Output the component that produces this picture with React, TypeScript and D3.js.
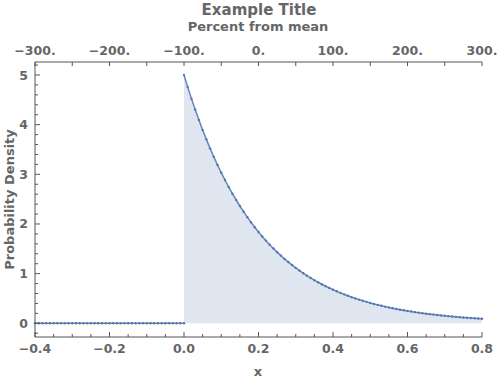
import React from "react";
import * as d3 from "d3";

const title = "Example Title";
const topAxisTitle = "Percent from mean";
const xAxisTitle = "x";
const yAxisTitle = "Probability Density";

const zeroX = [
  -0.4, -0.39, -0.38, -0.37, -0.36, -0.35, -0.34, -0.33, -0.32, -0.31,
  -0.3, -0.29, -0.28, -0.27, -0.26, -0.25, -0.24, -0.23, -0.22, -0.21,
  -0.2, -0.19, -0.18, -0.17, -0.16, -0.15, -0.14, -0.13, -0.12, -0.11,
  -0.1, -0.09, -0.08, -0.07, -0.06, -0.05, -0.04, -0.03, -0.02, -0.01, 0.0,
];
const zeroY = [
  0, 0, 0, 0, 0, 0, 0, 0, 0, 0,
  0, 0, 0, 0, 0, 0, 0, 0, 0, 0,
  0, 0, 0, 0, 0, 0, 0, 0, 0, 0,
  0, 0, 0, 0, 0, 0, 0, 0, 0, 0, 0,
];

const curveX = [
  0.0, 0.01, 0.02, 0.03, 0.04, 0.05, 0.06, 0.07, 0.08, 0.09,
  0.1, 0.11, 0.12, 0.13, 0.14, 0.15, 0.16, 0.17, 0.18, 0.19,
  0.2, 0.21, 0.22, 0.23, 0.24, 0.25, 0.26, 0.27, 0.28, 0.29,
  0.3, 0.31, 0.32, 0.33, 0.34, 0.35, 0.36, 0.37, 0.38, 0.39,
  0.4, 0.41, 0.42, 0.43, 0.44, 0.45, 0.46, 0.47, 0.48, 0.49,
  0.5, 0.51, 0.52, 0.53, 0.54, 0.55, 0.56, 0.57, 0.58, 0.59,
  0.6, 0.61, 0.62, 0.63, 0.64, 0.65, 0.66, 0.67, 0.68, 0.69,
  0.7, 0.71, 0.72, 0.73, 0.74, 0.75, 0.76, 0.77, 0.78, 0.79, 0.8,
];
const curveY = [
  5.0, 4.756, 4.524, 4.304, 4.094, 3.894, 3.704, 3.523, 3.352, 3.188,
  3.033, 2.885, 2.744, 2.61, 2.483, 2.362, 2.247, 2.137, 2.033, 1.934,
  1.839, 1.75, 1.664, 1.583, 1.506, 1.433, 1.363, 1.296, 1.233, 1.173,
  1.116, 1.061, 1.009, 0.96, 0.913, 0.869, 0.826, 0.786, 0.748, 0.711,
  0.677, 0.644, 0.612, 0.583, 0.554, 0.527, 0.501, 0.477, 0.454, 0.432,
  0.41, 0.39, 0.371, 0.353, 0.336, 0.32, 0.304, 0.289, 0.275, 0.262,
  0.249, 0.237, 0.225, 0.214, 0.204, 0.194, 0.184, 0.175, 0.167, 0.159,
  0.151, 0.144, 0.137, 0.13, 0.124, 0.118, 0.112, 0.106, 0.101, 0.096, 0.092,
];

const xMajorTicks = [-0.4, -0.2, 0.0, 0.2, 0.4, 0.6, 0.8];
const xTickLabels = ["\u22120.4", "\u22120.2", "0.0", "0.2", "0.4", "0.6", "0.8"];
const yMajorTicks = [0, 1, 2, 3, 4, 5];
const yTickLabels = ["0", "1", "2", "3", "4", "5"];
const topMajorTicks = [-300, -200, -100, 0, 100, 200, 300];
const topTickLabels = ["\u2212300.", "\u2212200.", "\u2212100.", "0.", "100.", "200.", "300."];

const W = 500;
const H = 381;
const left = 35;
const right = 482;
const top = 62;
const bottom = 337;

const lineColor = "#6486bb";
const dotColor = "#5676b0";
const fillColor = "#dfe6f0";
const axisColor = "#555555";
const textColor = "#666666";
const font = "'DejaVu Sans', sans-serif";

export default function App() {
  const x = d3.scaleLinear().domain([-0.4, 0.8]).range([left, right]);
  const y = d3.scaleLinear().domain([0, 5]).range([323.3, 75]);
  const yDomainLow = y.invert(bottom);
  const yDomainHigh = y.invert(top);
  const xp = d3.scaleLinear().domain([-300, 300]).range([left, right]);

  const zeroPts = zeroX.map((v, i) => [v, zeroY[i]] as [number, number]);
  const curvePts = curveX.map((v, i) => [v, curveY[i]] as [number, number]);

  const line = d3
    .line<[number, number]>()
    .x((d) => x(d[0]))
    .y((d) => y(d[1]));
  const area = d3
    .area<[number, number]>()
    .x((d) => x(d[0]))
    .y0(() => y(0))
    .y1((d) => y(d[1]));

  const xMinor = d3.range(-0.4, 0.8001, 0.05).filter(
    (v) => !xMajorTicks.some((m) => Math.abs(m - v) < 1e-6)
  );
  const yMinor = d3
    .range(-0.2, yDomainHigh, 0.2)
    .filter((v) => v >= yDomainLow && !yMajorTicks.some((m) => Math.abs(m - v) < 1e-6));
  const topMinor = d3.range(-250, 300, 100);

  return (
    <svg
      width={W}
      height={H}
      style={{ position: "absolute", left: 0, top: 0, display: "block" }}
      fontFamily={font}
      fontWeight="bold"
    >
      <rect x={0} y={0} width={W} height={H} fill="white" />
      <path d={area(curvePts) || ""} fill={fillColor} />
      <path d={line(zeroPts) || ""} fill="none" stroke={lineColor} strokeWidth={1.5} />
      <path d={line(curvePts) || ""} fill="none" stroke={lineColor} strokeWidth={1.5} />
      {zeroPts.concat(curvePts).map((d, i) => (
        <circle key={i} cx={x(d[0])} cy={y(d[1])} r={1.2} fill={dotColor} />
      ))}

      {/* frame */}
      <line x1={left} x2={left} y1={top} y2={bottom} stroke={axisColor} strokeWidth={1} />
      <line x1={left} x2={right} y1={bottom} y2={bottom} stroke={axisColor} strokeWidth={1} />
      <line x1={left} x2={right} y1={top} y2={top} stroke={axisColor} strokeWidth={1} />

      {/* bottom ticks */}
      {xMajorTicks.map((t, i) => (
        <g key={"xb" + i}>
          <line x1={x(t)} x2={x(t)} y1={bottom} y2={bottom - 5} stroke={axisColor} />
          <text x={x(t)} y={353} textAnchor="middle" fontSize={12.5} fill={textColor}>
            {xTickLabels[i]}
          </text>
        </g>
      ))}
      {xMinor.map((t, i) => (
        <line key={"xm" + i} x1={x(t)} x2={x(t)} y1={bottom} y2={bottom - 3} stroke={axisColor} />
      ))}

      {/* left ticks */}
      {yMajorTicks.map((t, i) => (
        <g key={"yl" + i}>
          <line x1={left} x2={left + 5} y1={y(t)} y2={y(t)} stroke={axisColor} />
          <text x={28} y={y(t) + 4.5} textAnchor="end" fontSize={12.5} fill={textColor}>
            {yTickLabels[i]}
          </text>
        </g>
      ))}
      {yMinor.map((t, i) => (
        <line key={"ym" + i} x1={left} x2={left + 3} y1={y(t)} y2={y(t)} stroke={axisColor} />
      ))}

      {/* top ticks */}
      {topMajorTicks.map((t, i) => (
        <g key={"xt" + i}>
          <line x1={xp(t)} x2={xp(t)} y1={top} y2={top + 4} stroke={axisColor} />
          <text x={xp(t)} y={55} textAnchor="middle" fontSize={12.5} fill={textColor}>
            {topTickLabels[i]}
          </text>
        </g>
      ))}
      {topMinor.map((t, i) => (
        <line key={"xtm" + i} x1={xp(t)} x2={xp(t)} y1={top} y2={top + 4} stroke={axisColor} />
      ))}

      {/* titles */}
      <text x={259} y={15} textAnchor="middle" fontSize={15} fill={textColor}>
        {title}
      </text>
      <text x={258} y={31} textAnchor="middle" fontSize={13} fill={textColor}>
        {topAxisTitle}
      </text>
      <text x={258} y={376} textAnchor="middle" fontSize={13} fill={textColor}>
        {xAxisTitle}
      </text>
      <text
        transform={`translate(14, ${(top + bottom) / 2}) rotate(-90)`}
        textAnchor="middle"
        fontSize={13}
        fill={textColor}
      >
        {yAxisTitle}
      </text>
    </svg>
  );
}
